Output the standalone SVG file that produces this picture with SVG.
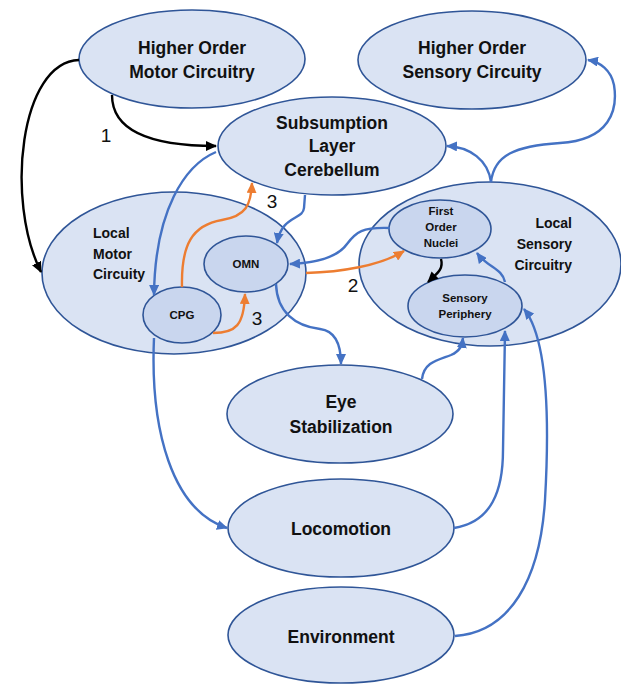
<svg xmlns="http://www.w3.org/2000/svg" width="621" height="684" viewBox="0 0 621 684">
<style>
.n{fill:#dae3f3;stroke:#2f5597;stroke-width:1.6}
.s{fill:#c9d6ee;stroke:#2f5597;stroke-width:1.6}
.t{font-family:"Liberation Sans",Arial,sans-serif;font-weight:bold;font-size:17.5px;fill:#111;text-anchor:middle}
.m{font-family:"Liberation Sans",Arial,sans-serif;font-weight:bold;font-size:14px;fill:#111}
.k{font-family:"Liberation Sans",Arial,sans-serif;font-weight:bold;font-size:11.5px;fill:#111;text-anchor:middle}
.num{font-family:"Liberation Sans",Arial,sans-serif;font-size:19px;fill:#111;text-anchor:middle}
.b{fill:none;stroke:#4472c4;stroke-width:2.4;marker-end:url(#ab)}
.o{fill:none;stroke:#ed7d31;stroke-width:2.4;marker-end:url(#ao)}
.k2{fill:none;stroke:#000;stroke-width:2.4;marker-end:url(#ak)}
</style>
<defs>
<marker id="ab" markerUnits="userSpaceOnUse" markerWidth="11" markerHeight="10" refX="10" refY="5" orient="auto"><path d="M0,0 L11,5 L0,10 z" fill="#4472c4"/></marker>
<marker id="ao" markerUnits="userSpaceOnUse" markerWidth="11" markerHeight="10" refX="10" refY="5" orient="auto"><path d="M0,0 L11,5 L0,10 z" fill="#ed7d31"/></marker>
<marker id="ak" markerUnits="userSpaceOnUse" markerWidth="11" markerHeight="10" refX="10" refY="5" orient="auto"><path d="M0,0 L11,5 L0,10 z" fill="#000"/></marker>
</defs>
<g id="higher-motor"><ellipse class="n" cx="192" cy="59" rx="113" ry="49"/><text class="t" x="192" y="54">Higher Order</text><text class="t" x="192" y="78">Motor Circuitry</text></g>
<g id="higher-sensory"><ellipse class="n" cx="472" cy="60" rx="114" ry="49"/><text class="t" x="472" y="54">Higher Order</text><text class="t" x="472" y="78">Sensory Circuity</text></g>
<g id="subsumption"><ellipse class="n" cx="332" cy="146" rx="114" ry="49"/><text class="t" x="332" y="129">Subsumption</text><text class="t" x="332" y="152">Layer</text><text class="t" x="332" y="176">Cerebellum</text></g>
<g id="local-motor"><ellipse class="n" cx="174" cy="273" rx="132" ry="81"/><text class="m" x="93" y="238">Local</text><text class="m" x="93" y="259">Motor</text><text class="m" x="93" y="279">Circuity</text></g>
<g id="omn"><ellipse class="s" cx="246" cy="264" rx="42" ry="28"/><text class="k" x="246" y="268">OMN</text></g>
<g id="cpg"><ellipse class="s" cx="182" cy="315" rx="39" ry="28"/><text class="k" x="182" y="319">CPG</text></g>
<g id="local-sensory"><ellipse class="n" cx="490" cy="264" rx="131" ry="82"/><text class="m" x="572" y="228" text-anchor="end">Local</text><text class="m" x="572" y="249" text-anchor="end">Sensory</text><text class="m" x="572" y="270" text-anchor="end">Circuitry</text></g>
<g id="first-order"><ellipse class="s" cx="440" cy="229" rx="51" ry="29"/><text class="k" x="441" y="215">First</text><text class="k" x="441" y="231">Order</text><text class="k" x="441" y="247">Nuclei</text></g>
<g id="sensory-periphery"><ellipse class="s" cx="465" cy="306" rx="57" ry="31"/><text class="k" x="465" y="302">Sensory</text><text class="k" x="465" y="318">Periphery</text></g>
<g id="eye"><ellipse class="n" cx="340" cy="414" rx="113" ry="49"/><text class="t" x="341" y="408">Eye</text><text class="t" x="341" y="433">Stabilization</text></g>
<g id="locomotion"><ellipse class="n" cx="341" cy="528" rx="113" ry="49"/><text class="t" x="341" y="535">Locomotion</text></g>
<g id="environment"><ellipse class="n" cx="341" cy="635" rx="113" ry="48"/><text class="t" x="341" y="643">Environment</text></g>
<g id="connectors">
<path class="k2" d="M79,60 C20,62 5,200 41,272"/>
<path class="k2" d="M112,95 C112,135 160,146 216,146"/>
<path class="b" d="M491,182 C488,160 470,147 447,146"/>
<path class="b" d="M491,182 C494,155 515,146 560,143 C610,140 618,110 614,85 C611,70 600,62 588,60"/>
<path class="b" d="M216,152 C185,165 155,210 154,295"/>
<path class="b" d="M305,195 L304,208 C303,220 282,215 277,243"/>
<path class="b" d="M390,228 C362,227 356,232 347,244 C337,258 315,263 290,264"/>
<path class="o" d="M306,273 C340,272 380,266 404,251"/>
<path class="o" d="M182,287 C181,245 192,225 222,220 C246,216 251,205 252,183"/>
<path class="o" d="M213,333 C236,333 244,325 245,294"/>
<path class="k2" d="M441,259 C444,270 436,274 428,282"/>
<path class="b" d="M276,284 C277,312 295,326 320,329 C336,331 341,345 341,364"/>
<path class="b" d="M422,379 C424,362 438,360 451,355 C460,351 462,346 463,338"/>
<path class="b" d="M454,528 C492,522 503,490 503,450 L505,331"/>
<path class="b" d="M455,636 C510,632 540,580 545,500 C549,430 549,340 524,309"/>
<path class="b" d="M154,338 C150,430 172,510 227,528"/>
<path class="b" d="M505,282 C502,268 488,268 477,253"/>
<text class="num" x="106" y="142">1</text>
<text class="num" x="353" y="292">2</text>
<text class="num" x="272" y="208">3</text>
<text class="num" x="257" y="325">3</text>
</g>
</svg>
